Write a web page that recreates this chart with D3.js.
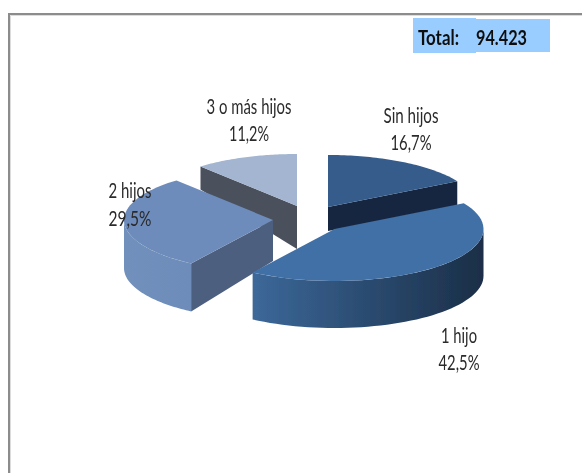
<!DOCTYPE html>
<html><head><meta charset="utf-8">
<script src="https://cdn.jsdelivr.net/npm/d3@7"></script>
<style>html,body{margin:0;padding:0;background:#fff}svg{display:block}</style>
</head><body><svg id="c" width="582" height="473"></svg>
<script>
const categories = ["Sin hijos","1 hijo","2 hijos","3 o más hijos"];
const values = [16.7,42.5,29.5,11.2];
const valueLabels = ["16,7%","42,5%","29,5%","11,2%"];
const totalLabel = "Total:";
const totalValue = "94.423";

// layout (separate from the data)
const W=582,H=473,RX=149,RY=52;
const centers=[[328,207],[334.5,229],[273,220],[297,206]];
const topColors=["#345b8b","#416fa5","#6d8cbb","#a3b5d0"];
const cutColors=["#17283f","#2a4a70","#4d5f7e","#4b515c"];
const wallStops=[null,["#3c6899","#1a2e47"],["#7190bc","#6d8cb9"],null];
const wallDepth=[25,47,48,23];   // depth at the outer rim
const apexDepth=[24,47,41,43];
const labelPos=[[411,123,150],[459,343,370],[130,198,226],[249,114,141]];
const catWidth=[55,36,43,85];
const valWidth=[41,41,43,40];
const drawOrder=[3,0,2,1];

const svg=d3.select("#c");
const defs=svg.append("defs");
defs.append("filter").attr("id","soft").append("feGaussianBlur").attr("stdDeviation",0.55);
const root=svg.append("g").attr("filter","url(#soft)");

const arcs=d3.pie().sort(null).startAngle(0).endAngle(2*Math.PI)(values);
const px=(c,a)=>c[0]+RX*Math.sin(a);
const py=(c,a)=>c[1]-RY*Math.cos(a);

// frame
root.append("path").attr("d",`M${W},14H9V${H}`).attr("fill","none").attr("stroke","#8c8c8c").attr("stroke-width",2);
root.append("path").attr("d",`M${W},15.5H10.5V${H}`).attr("fill","none").attr("stroke","#dcdcdc").attr("stroke-width",1);

// total box
root.append("rect").attr("x",413).attr("y",18).attr("width",63).attr("height",35).attr("fill","#99ccff");
root.append("rect").attr("x",476).attr("y",19).attr("width",74).attr("height",33).attr("fill","#99ccff");
const tf="Lato,'Open Sans',sans-serif";
function fit(sel,w){return sel.attr("textLength",w).attr("lengthAdjust","spacingAndGlyphs");}
fit(root.append("text").attr("x",418).attr("y",45).attr("font-family",tf).attr("font-weight","bold").attr("font-size",21).attr("fill","#111").text(totalLabel),41);
fit(root.append("text").attr("x",476).attr("y",45).attr("font-family",tf).attr("font-weight","bold").attr("font-size",21).attr("fill","#111").text(totalValue),51);

function rim(c,a0,a1,dy,n=48){
  return d3.range(n+1).map(i=>{const a=a0+(a1-a0)*i/n;return [px(c,a),py(c,a)+dy];});
}
const line=d3.line();

drawOrder.forEach(i=>{
  const c=centers[i],A=arcs[i],a0=A.startAngle,a1=A.endAngle;
  const g=root.append("g");
  const d=wallDepth[i],ad=apexDepth[i];
  // outer wall on the visible front half
  const v0=Math.max(a0,Math.PI/2),v1=Math.min(a1,3*Math.PI/2);
  if(v1>v0){
    let fill=topColors[i];
    if(wallStops[i]){
      const id="w"+i,xs=[px(c,v1),px(c,v0)];
      const gr=defs.append("linearGradient").attr("id",id).attr("gradientUnits","userSpaceOnUse")
        .attr("x1",d3.min(xs)).attr("x2",d3.max(xs)).attr("y1",0).attr("y2",0);
      gr.append("stop").attr("offset",0).attr("stop-color",wallStops[i][0]);
      gr.append("stop").attr("offset",1).attr("stop-color",wallStops[i][1]);
      fill=`url(#${id})`;
    }
    const pts=rim(c,v0,v1,0).concat(rim(c,v1,v0,d));
    g.append("path").attr("d",line(pts)+"Z").attr("fill",fill);
  }
  // cut wall facing the viewer
  if(i!==1){
    const ca=(i===0)?a1:a0;
    const e=[px(c,ca),py(c,ca)];
    g.append("path").attr("d",line([[c[0],c[1]],e,[e[0],e[1]+d],[c[0],c[1]+ad]])+"Z").attr("fill",cutColors[i]);
  }
  // top face
  g.append("path").attr("d",line([[c[0],c[1]]].concat(rim(c,a0,a1,0)))+"Z").attr("fill",topColors[i]);
});

// labels
const lf="Lato,'Open Sans',sans-serif";
categories.forEach((t,i)=>{
  const p=labelPos[i];
  const add=(s,y,w)=>fit(root.append("text").attr("text-anchor","middle").attr("x",p[0]).attr("y",y)
    .attr("font-family",lf).attr("font-size",21).attr("fill","#2b2b2b").text(s),w);
  add(t,p[1],catWidth[i]);
  add(valueLabels[i],p[2],valWidth[i]);
});
</script></body></html>
